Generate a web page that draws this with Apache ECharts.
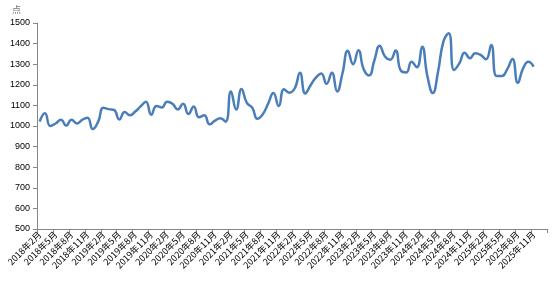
<!DOCTYPE html>
<html>
<head>
<meta charset="utf-8">
<script src="https://cdn.jsdelivr.net/npm/echarts@6/dist/echarts.min.js"></script>
<style>
html,body{margin:0;padding:0;background:#fff;}
#chart{width:554px;height:282px;}
</style>
</head>
<body>
<div id="chart"></div>
<script>
// Monthly categories 2018年2月 .. 2026年1月
var categories = [];
(function(){
  var y = 2018, m = 2;
  for (var k = 0; k < 96; k++) {
    categories.push(y + '年' + m + '月');
    m++; if (m > 12) { m = 1; y++; }
  }
})();

var values = [
  1022, 1062, 1000, 1012, 1030, 1002, 1030, 1012, 1030, 1040, 985, 1020,
  1088, 1082, 1078, 1032, 1068, 1052, 1070, 1095, 1118, 1055, 1097, 1090,
  1118, 1108, 1080, 1108, 1058, 1095, 1042, 1052, 1008, 1026, 1038, 1021,
  1168, 1080, 1180, 1112, 1090, 1035, 1057, 1108, 1160, 1097, 1178, 1162,
  1182, 1258, 1158, 1198, 1235, 1255, 1205, 1258, 1168, 1256, 1365, 1300,
  1368, 1275, 1245, 1318, 1390, 1337, 1322, 1366, 1268, 1260, 1312, 1285,
  1385, 1240, 1160, 1265, 1410, 1450, 1272, 1304, 1356, 1329, 1353, 1345,
  1324, 1393, 1243, 1243, 1275, 1325, 1210, 1280, 1312, 1288, null, null
];

var yMin = 500, yMax = 1500, yStep = 100;
var unitLabel = '点';

var chart = echarts.init(document.getElementById('chart'), null, {renderer: 'canvas'});
chart.setOption({
  animation: false,
  backgroundColor: '#ffffff',
  title: {
    text: unitLabel,
    left: 7, top: 0,
    textStyle: {fontSize: 9, color: '#777', fontWeight: 'normal', fontFamily: 'Noto Sans CJK SC'}
  },
  grid: {left: 37, right: 7, top: 23, bottom: 53, containLabel: false},
  xAxis: {
    type: 'category',
    data: categories,
    boundaryGap: true,
    axisLine: {lineStyle: {color: '#868686', width: 1}},
    axisTick: {show: true, interval: 2, length: 4, lineStyle: {color: '#868686'}},
    axisLabel: {
      interval: 2, rotate: 45, margin: 4,
      fontSize: 9, color: '#000', fontFamily: 'Noto Sans CJK SC'
    },
    splitLine: {show: false}
  },
  yAxis: {
    type: 'value',
    min: yMin, max: yMax, interval: yStep,
    axisLine: {show: true, lineStyle: {color: '#868686', width: 1}},
    axisTick: {show: true, length: 4, lineStyle: {color: '#868686'}},
    axisLabel: {
      fontSize: 9, color: '#000', margin: 7, fontFamily: 'Liberation Sans',
      formatter: function (v) { return String(v); }
    },
    splitLine: {show: false}
  },
  series: [{
    type: 'line',
    data: values,
    smooth: 0.5,
    showSymbol: false,
    connectNulls: false,
    lineStyle: {color: '#4A7EBB', width: 2.5},
    itemStyle: {color: '#4A7EBB'}
  }]
});
</script>
</body>
</html>
